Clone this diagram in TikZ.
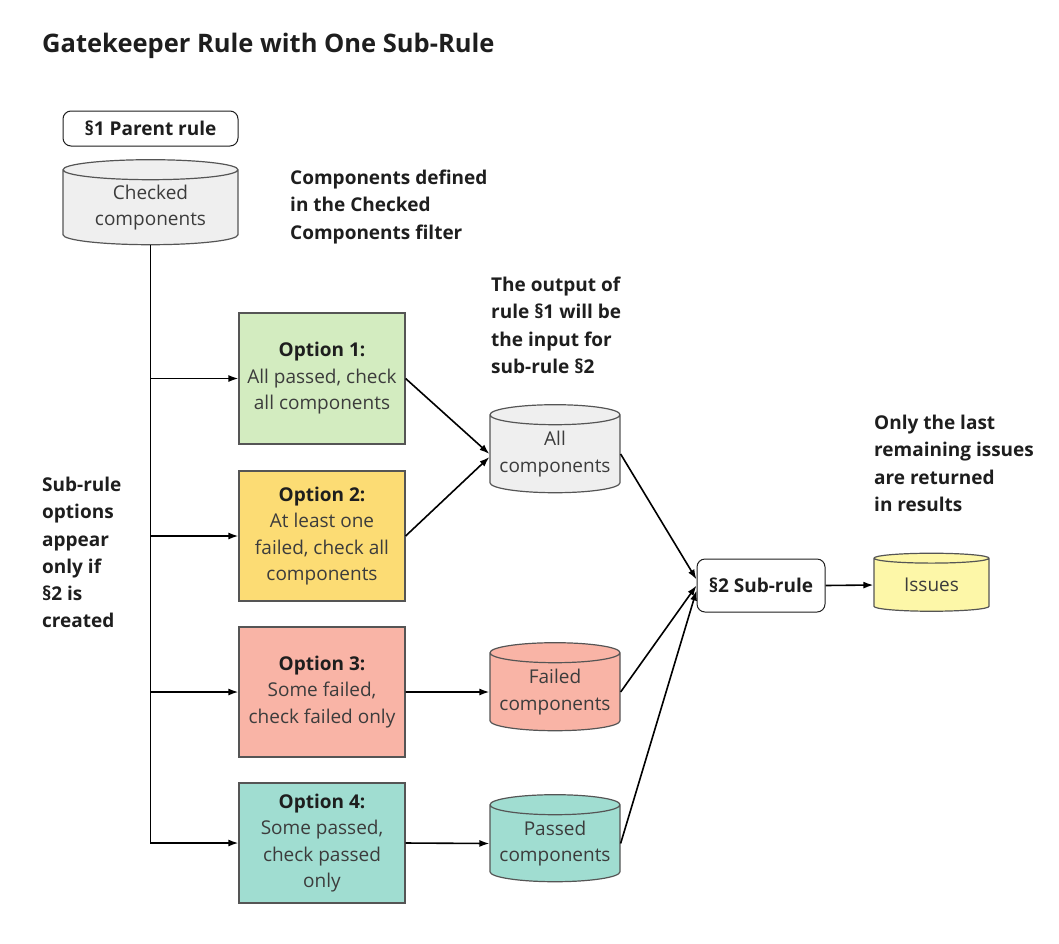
\documentclass[tikz,border=0pt]{standalone}
\usepackage{fontspec}
\setmainfont{Open Sans}
\usetikzlibrary{shapes.geometric,arrows.meta}
\definecolor{optgreen}{HTML}{D3ECC0}
\definecolor{optyellow}{HTML}{FCDC74}
\definecolor{optred}{HTML}{F9B4A6}
\definecolor{optteal}{HTML}{A0DDD1}
\definecolor{dbgray}{HTML}{EFEFEF}
\definecolor{dbyellow}{HTML}{FDF7A8}
\definecolor{linegray}{HTML}{555555}
\definecolor{txtgray}{HTML}{3C3C3C}
\definecolor{txtdark}{HTML}{1E1E1E}
\newcommand{\bodyfont}{\fontsize{19}{26.5}\selectfont}
\newcommand{\notefont}{\fontsize{19}{27.2}\selectfont\bfseries}
\tikzset{opt box/.style={rectangle,draw=linegray,line width=1.2pt,fill=#1,minimum width=166pt,align=center,text=txtgray,font=\bodyfont},
  rule box/.style={rectangle,rounded corners=8pt,draw=txtdark,line width=1pt,fill=white,align=center,text=txtdark,font=\bodyfont\bfseries},
  db/.style={cylinder,shape border rotate=90,aspect=0.18,draw=linegray,line width=1.2pt,fill=#1,align=center,text=txtgray,font=\bodyfont,inner sep=0pt},
  note/.style={anchor=north west,align=left,inner sep=0pt,text=txtdark,font=\notefont},
  flow/.style={-{Latex[length=10pt,width=7pt]},line width=1.6pt,draw=black},
}

\begin{document}
\begin{tikzpicture}[x=1pt,y=-1pt]
	\useasboundingbox (0,0) rectangle (1059,943);
	
	\node[anchor=west,inner sep=0pt,text=txtdark,font=\fontsize{25.5}{30}\selectfont\bfseries] (title) at (42,46) {Gatekeeper Rule with One Sub-Rule};
	
	\node[rule box,minimum width=175pt,minimum height=35pt] (parent) at (150.5,128.5) {§1 Parent rule};
	\node[db=dbgray,minimum width=175pt,minimum height=85pt] (checked) at (150.5,207.5) {Checked\\components};
	\node[note] (filternote) at (290,170) {Components defined\\in the Checked\\Components filter};
	\node[note] (optnote) at (42,477) {Sub-rule\\options\\appear\\only if\\§2 is\\created};
	
	\node[opt box=optgreen,minimum height=131pt] (opt1) at (322,378.5) {\textbf{\color{txtdark}Option 1:}\\All passed, check\\all components};
	\node[opt box=optyellow,minimum height=130pt] (opt2) at (322,536) {\textbf{\color{txtdark}Option 2:}\\At least one\\failed, check all\\components};
	\node[opt box=optred,minimum height=130pt] (opt3) at (322,692) {\textbf{\color{txtdark}Option 3:}\\Some failed,\\check failed only};
	\node[opt box=optteal,minimum height=120pt] (opt4) at (322,843) {\textbf{\color{txtdark}Option 4:}\\Some passed,\\check passed\\only};
	
	\node[note] (outnote) at (491,277) {The output of\\rule §1 will be\\the input for\\sub-rule §2};
	\node[db=dbgray,minimum width=130pt,minimum height=88pt] (allcomp) at (555,454) {All\\components};
	\node[db=optred,minimum width=130pt,minimum height=88pt] (failcomp) at (555,692) {Failed\\components};
	\node[db=optteal,minimum width=130pt,minimum height=87pt] (passcomp) at (555,843.5) {Passed\\components};
	
	\node[rule box,minimum width=128pt,minimum height=53pt] (subrule) at (761,585.5) {§2 Sub-rule};
	\node[db=dbyellow,minimum width=115pt,minimum height=58pt] (issues) at (931.5,585) {Issues};
	\node[note] (issuenote) at (874,415) {Only the last\\remaining issues\\are returned\\in results};
	
	% options fan out from the checked components
	\draw[flow] (checked.south) |- (opt4.west);
	\draw[flow] (checked.south |- opt1.west) -- (opt1.west);
	\draw[flow] (checked.south |- opt2.west) -- (opt2.west);
	\draw[flow] (checked.south |- opt3.west) -- (opt3.west);
	
	\draw[flow] (opt1.east) -- (allcomp.west);
	\draw[flow] (opt2.east) -- ([yshift=-3pt]allcomp.west);
	\draw[flow] (opt3.east) -- (failcomp.west);
	\draw[flow] (opt4.east) -- (passcomp.west);
	
	\draw[flow] (allcomp.east) -- ([yshift=6pt]subrule.west);
	\draw[flow] (failcomp.east) -- (subrule.west);
	\draw[flow] (passcomp.east) -- ([yshift=-5pt]subrule.west);
	\draw[flow] (subrule.east) -- (issues.west);
\end{tikzpicture}
\end{document}
